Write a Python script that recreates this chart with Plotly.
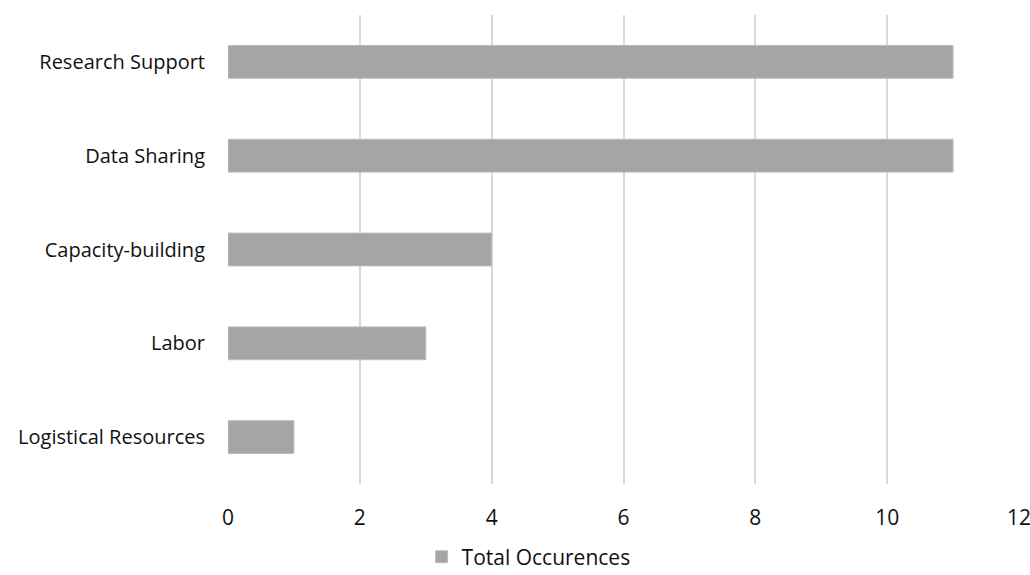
import plotly.graph_objects as go

categories = ["Logistical Resources", "Labor", "Capacity-building", "Data Sharing", "Research Support"]
occurrences = [1, 3, 4, 11, 11]
x_ticks = [0, 2, 4, 6, 8, 10, 12]

fig = go.Figure(
    go.Bar(
        y=categories,
        x=occurrences,
        orientation="h",
        name="Total Occurences",
        marker=dict(color="#a5a5a5", line=dict(color="#bdbdbd", width=1)),
        showlegend=True,
    )
)

font_family = "'Open Sans', Lato, sans-serif"

fig.update_layout(
    width=1030,
    height=575,
    margin=dict(l=228, r=11, t=15, b=91, autoexpand=False),
    paper_bgcolor="white",
    plot_bgcolor="white",
    bargap=0.65,
    font=dict(family=font_family, size=20, color="#111111"),
    xaxis=dict(
        range=[0, 12],
        tickvals=x_ticks,
        showgrid=True,
        gridcolor="#d9d9d9",
        gridwidth=1.5,
        zeroline=False,
        showline=False,
        ticks="",
        ticklabelstandoff=19,
        ticklabeloverflow="allow",
        tickfont=dict(size=21),
    ),
    yaxis=dict(
        showgrid=False,
        zeroline=False,
        showline=False,
        ticks="",
        ticklabelstandoff=22,
    ),
    legend=dict(
        orientation="h",
        x=0.38,
        xanchor="center",
        y=-0.112,
        yanchor="top",
        font=dict(size=21),
        itemwidth=30,
    ),
)

fig.write_html("out.html")
